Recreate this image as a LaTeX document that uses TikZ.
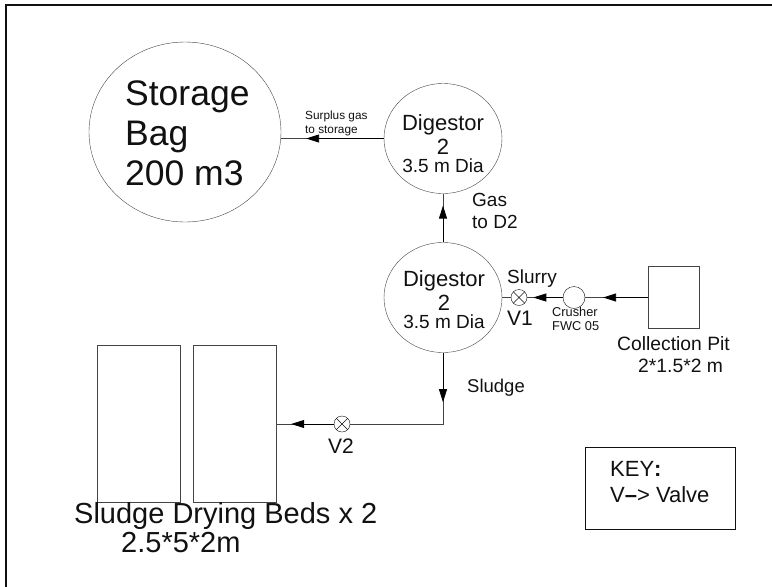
\documentclass[tikz,border=0pt]{standalone}
\usepackage{fontspec}
\setmainfont{Liberation Sans}
\usetikzlibrary{arrows.meta,positioning,calc,shapes.geometric}
\definecolor{ink}{HTML}{111111}
\definecolor{wire}{HTML}{444444}
\tikzset{tank/.style={draw=wire,ellipse,inner sep=0pt,align=center},
  bed/.style={draw=wire,inner sep=0pt},
  valvering/.style={draw=ink,circle,minimum size=16pt,inner sep=0pt},
  arrow/.style={-{Triangle[length=13pt,width=8pt]},draw=wire,thick,color=black},
  pipe/.style={draw=wire,thick},
  lbl/.style={inner sep=0pt,text=ink,align=left}}
\begin{document}
\begin{tikzpicture}[x=1pt,y=-1pt]
\useasboundingbox (0,0) rectangle (772,587);
\draw[ink,line width=1.2pt] (6,587) -- (6,5) -- (772,5);
% vessels
\node[tank,minimum width=192pt,minimum height=180pt] (bag) at (185,132) {};
\node[tank,minimum width=118pt,minimum height=110pt] (upper) at (443,138.5) {};
\node[tank,minimum width=118pt,minimum height=110pt] (lower) at (443,297.5) {};
\node[bed,minimum width=51pt,minimum height=62pt] (pit) at (673.5,297.5) {};
\node[bed,minimum width=83pt,minimum height=157pt] (bedA) at (138.5,424) {};
\node[bed,minimum width=83pt,minimum height=157pt] (bedB) at (234.5,424) {};
\node[draw=ink,circle,minimum size=22pt,inner sep=0pt] (crusher) at (574,297.5) {};
\node[valvering] (vone) at (519,297.5) {};
\node[valvering] (vtwo) at (342,424) {};
\draw[ink] (vone.45) -- (vone.225) (vone.135) -- (vone.315);
\draw[ink] (vtwo.45) -- (vtwo.225) (vtwo.135) -- (vtwo.315);
\coordinate (bend) at (443,424);
% pipes
\draw[pipe] (upper.west) -- (bag.east |- upper.west);
\draw[arrow] (upper.west) -- ($(upper.west)!0.757!(bag.east |- upper.west)$);
\draw[pipe] (lower.north) -- (upper.south);
\draw[arrow] (lower.north) -- ($(lower.north)!0.755!(upper.south)$);
\draw[pipe] (pit.west) -- (crusher.east);
\draw[arrow] (pit.west) -- ($(pit.west)!0.714!(crusher.east)$);
\draw[pipe] (crusher.west) -- (vone.east);
\draw[arrow] (crusher.west) -- ($(crusher.west)!0.83!(vone.east)$);
\draw[pipe] (vone.west) -- (lower.east);
\draw[pipe] (lower.south) -- (bend) -- (vtwo.east);
\draw[arrow] (lower.south) -- ($(lower.south)!0.694!(bend)$);
\draw[pipe] (vtwo.west) -- (bedB.east);
\draw[arrow] (vtwo.west) -- ($(vtwo.west)!0.74!(bedB.east)$);
% text
\node[lbl,font=\fontsize{35.5}{40}\selectfont,anchor=base west] (bagtxt) at (125,185) {Storage\\Bag\\200 m3};
\node[lbl,font=\fontsize{11.8}{14}\selectfont,anchor=base west] (surplus) at (305,133) {Surplus gas\\to storage};
\node[lbl,font=\fontsize{22}{24}\selectfont,align=center,anchor=base] (uppertxt) at (443,172) {Digestor\\2\\[-6pt]{\fontsize{19}{19}\selectfont 3.5 m Dia}};
\node[lbl,font=\fontsize{22}{24}\selectfont,align=center,anchor=base] (lowertxt) at (444,328) {Digestor\\2\\[-6pt]{\fontsize{19}{19}\selectfont 3.5 m Dia}};
\node[lbl,font=\fontsize{19}{22}\selectfont,anchor=base west] (gas) at (472,228) {Gas\\to D2};
\node[lbl,font=\fontsize{19}{19}\selectfont,anchor=base west] (slurry) at (507,283) {Slurry};
\node[lbl,font=\fontsize{21}{21}\selectfont,anchor=base west] (vonetxt) at (507,325) {V1};
\node[lbl,font=\fontsize{12.8}{14}\selectfont,anchor=base west] (crushertxt) at (552,330) {Crusher\\FWC 05};
\node[lbl,font=\fontsize{19.3}{22}\selectfont,anchor=base west] (pittxt) at (617,372) {Collection Pit\\\hspace*{21pt}2*1.5*2 m};
\node[lbl,font=\fontsize{18.5}{18.5}\selectfont,anchor=base west] (sludge) at (467,392) {Sludge};
\node[lbl,font=\fontsize{21}{21}\selectfont,anchor=base] (vtwotxt) at (341,453) {V2};
\node[lbl,font=\fontsize{29}{29}\selectfont,anchor=base west] (bedtxt) at (74,552) {Sludge Drying Beds x 2\\\hspace*{47pt}2.5*5*2m};
\node[bed,draw=ink,minimum width=150pt,minimum height=82pt] (key) at (660.5,488) {};
\node[lbl,font=\fontsize{22}{26}\selectfont,anchor=base west] (keytxt) at (610,502) {KEY\textbf{:}\\V{\textbf{--}}> Valve};
\end{tikzpicture}
\end{document}
